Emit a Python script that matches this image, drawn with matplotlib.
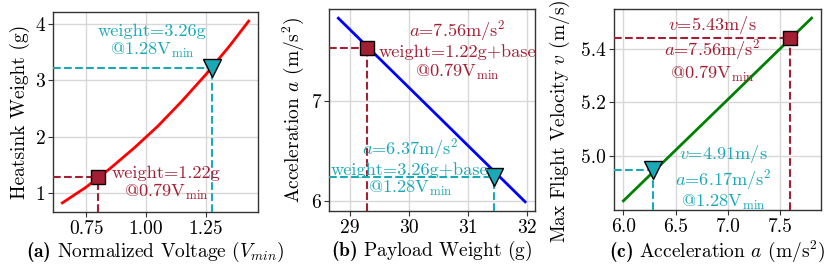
import matplotlib
matplotlib.use("Agg")
import matplotlib.pyplot as plt

plt.rcParams['font.family'] = ['cmr10', 'DejaVu Serif']
plt.rcParams['mathtext.fontset'] = 'custom'
plt.rcParams['mathtext.rm'] = 'cmr10'
plt.rcParams['mathtext.it'] = 'cmmi10'
plt.rcParams['mathtext.bf'] = 'cmb10'
plt.rcParams['axes.formatter.use_mathtext'] = False
plt.rcParams['axes.unicode_minus'] = False

# ---- data ----
# (a) heatsink weight vs normalized voltage
volt = [0.65, 0.75, 0.85, 0.95, 1.05, 1.15, 1.25, 1.35, 1.43]
heat_w = [0.83, 1.11, 1.44, 1.80, 2.19, 2.63, 3.10, 3.61, 4.05]
a_sq = (0.80, 1.28)
a_tri = (1.275, 3.22)

# (b) acceleration vs payload weight
payload = [28.81, 31.97]
accel = [7.83, 5.99]
b_sq = (29.30, 7.53)
b_tri = (31.45, 6.24)

# (c) max flight velocity vs acceleration
accel_c = [6.00, 7.80]
vel = [4.835, 5.513]
c_sq = (7.59, 5.44)
c_tri = (6.28, 4.95)

RED = '#a31f34'
CYAN = '#1aa9b7'
FS = 14
FS_ANN = 13.2

W, H = 830, 275
fig = plt.figure(figsize=(W / 100, H / 100), dpi=100)


def add_ax(l, r, t, b):
    return fig.add_axes([l / W, (H - b) / H, (r - l) / W, (b - t) / H])


def style(ax):
    ax.grid(True, color='#d8d8d8', lw=1.0)
    ax.set_axisbelow(True)
    for s in ax.spines.values():
        s.set_color('#333333')
        s.set_linewidth(1.0)
    ax.tick_params(direction='out', length=3.5, width=0.8, color='#333333',
                   labelsize=FS, pad=2)


def markers(ax, sq, tri):
    x0, x1 = ax.get_xlim()
    y0, y1 = ax.get_ylim()
    for (px, py), col in ((sq, RED), (tri, CYAN)):
        ax.plot([x0, px], [py, py], ls='--', color=col, lw=1.5, zorder=3)
        ax.plot([px, px], [y0, py], ls='--', color=col, lw=1.5, zorder=3)
    ax.plot(*sq, marker='s', ms=10, mfc=RED, mec='black', mew=1.0, zorder=5)
    ax.plot(*tri, marker='v', ms=13, mfc=CYAN, mec='black', mew=1.0, zorder=5)
    ax.set_xlim(x0, x1)
    ax.set_ylim(y0, y1)


def label(ax, x, y, s, col):
    ax.text(x, y, s, color=col, fontsize=FS_ANN, ha='center', va='center',
            multialignment='center', linespacing=1.1, zorder=6)


VMIN = r'V$_{\mathrm{min}}$'

# ---- (a) ----
ax = add_ax(53, 258, 12, 212)
style(ax)
ax.plot(volt, heat_w, color='red', lw=2, zorder=4)
ax.margins(0.05)
ax.autoscale_view()
markers(ax, a_sq, a_tri)
ax.set_xticks([0.75, 1.00, 1.25])
ax.set_xticklabels(['0.75', '1.00', '1.25'])
ax.set_yticks([1, 2, 3, 4])
ax.set_yticklabels(['1', '2', '3', '4'])
label(ax, 1.027, 3.68, 'weight=3.26g\n@1.28' + VMIN, CYAN)
label(ax, 1.083, 1.165, 'weight=1.22g\n@0.79' + VMIN, RED)
ax.set_ylabel('Heatsink Weight (g)', fontsize=FS, labelpad=4)
ax.set_xlabel(r'$\mathbf{(a)}$ Normalized Voltage ($V_{min}$)', fontsize=FS, labelpad=2)

# ---- (b) ----
ax = add_ax(329, 534.5, 9, 211)
style(ax)
ax.plot(payload, accel, color='blue', lw=2, zorder=4)
ax.margins(0.05)
ax.autoscale_view()
markers(ax, b_sq, b_tri)
ax.set_xticks([29, 30, 31, 32])
ax.set_xticklabels(['29', '30', '31', '32'])
ax.set_yticks([6, 7])
ax.set_yticklabels(['6', '7'])
label(ax, 30.82, 7.51, '$a$=7.56m/s$^2$\nweight=1.22g+base\n@0.79' + VMIN, RED)
label(ax, 30.02, 6.335, '$a$=6.37m/s$^2$\nweight=3.26g+base\n@1.28' + VMIN, CYAN)
ax.set_ylabel('Acceleration $a$ (m/s$^2$)', fontsize=FS, labelpad=4)
ax.set_xlabel(r'$\mathbf{(b)}$ Payload Weight (g)', fontsize=FS, labelpad=2)

# ---- (c) ----
ax = add_ax(614, 821, 9, 210)
style(ax)
ax.plot(accel_c, vel, color='green', lw=2, zorder=4)
ax.margins(0.05)
ax.autoscale_view()
markers(ax, c_sq, c_tri)
ax.set_xticks([6.0, 6.5, 7.0, 7.5])
ax.set_xticklabels(['6.0', '6.5', '7.0', '7.5'])
ax.set_yticks([5.0, 5.2, 5.4])
ax.set_yticklabels(['5.0', '5.2', '5.4'])
label(ax, 6.85, 5.40, '$v$=5.43m/s\n$a$=7.56m/s$^2$\n@0.79' + VMIN, RED)
label(ax, 6.955, 4.92, '$v$=4.91m/s\n$a$=6.17m/s$^2$\n@1.28' + VMIN, CYAN)
ax.set_ylabel('Max Flight Velocity $v$ (m/s)', fontsize=FS)
ax.yaxis.set_label_coords(-0.205, 0.44)
ax.set_xlabel(r'$\mathbf{(c)}$ Acceleration $a$ (m/s$^2$)', fontsize=FS, labelpad=2)

fig.savefig('out.png', dpi=100)
